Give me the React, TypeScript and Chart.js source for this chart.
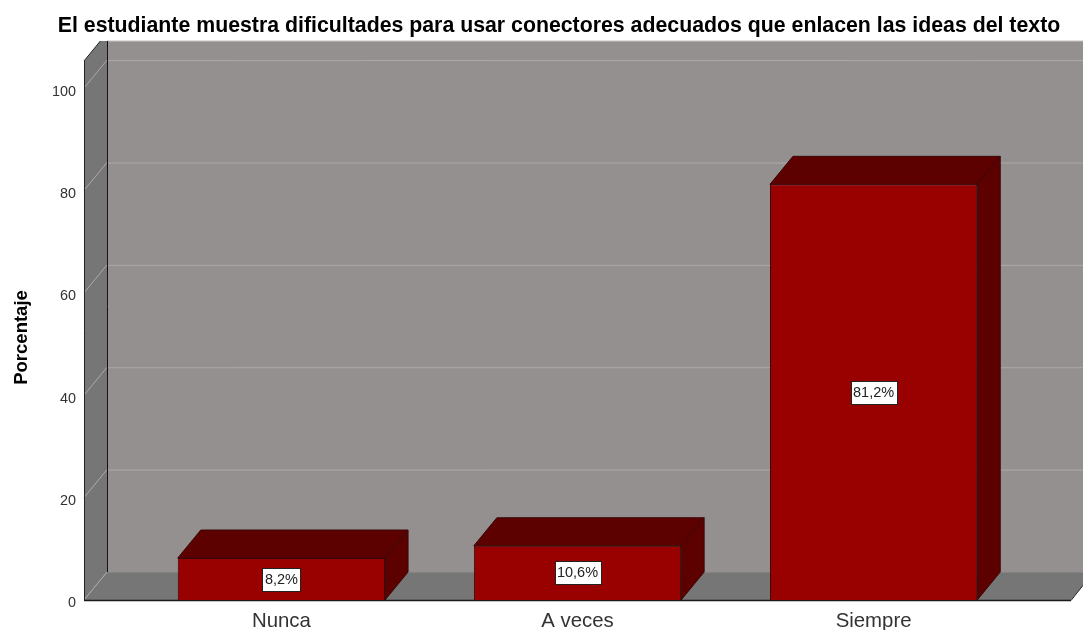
import React, { useEffect, useRef } from "react";
import { Chart, registerables } from "chart.js";

Chart.register(...registerables);

const titleText = "El estudiante muestra dificultades para usar conectores adecuados que enlacen las ideas del texto";
const yAxisTitle = "Porcentaje";
const categories = ["Nunca", "A veces", "Siempre"];
const positions = [1, 2, 3];
const percentages = [8.2, 10.6, 81.2];
const percentLabels = ["8,2%", "10,6%", "81,2%"];

const DEPTH_X = 23;
const DEPTH_Y = -28;
const WALL_TOP = 41;
const FONT = "'Liberation Sans', Arial, sans-serif";

const poly = (ctx: CanvasRenderingContext2D, pts: number[][], fill?: string, stroke?: string) => {
  ctx.beginPath();
  pts.forEach(([x, y], i) => (i ? ctx.lineTo(x, y) : ctx.moveTo(x, y)));
  ctx.closePath();
  if (fill) { ctx.fillStyle = fill; ctx.fill(); }
  if (stroke) { ctx.strokeStyle = stroke; ctx.lineWidth = 1; ctx.stroke(); }
};
const seg = (ctx: CanvasRenderingContext2D, x1: number, y1: number, x2: number, y2: number, color: string, w = 1) => {
  ctx.beginPath();
  ctx.moveTo(x1, y1);
  ctx.lineTo(x2, y2);
  ctx.strokeStyle = color;
  ctx.lineWidth = w;
  ctx.stroke();
};

const walls = {
  id: "walls",
  beforeDatasetsDraw(chart: any) {
    const { ctx, chartArea: a, scales } = chart;
    const w = chart.width;
    const bx = a.left + DEPTH_X;
    const by = a.bottom + DEPTH_Y;
    const cutX = a.left + ((a.top - WALL_TOP) / -DEPTH_Y) * DEPTH_X;
    const edgeY = a.bottom + ((w - a.right) / DEPTH_X) * DEPTH_Y;
    ctx.save();
    ctx.fillStyle = "#94908f";
    ctx.fillRect(bx, WALL_TOP, w - bx, by - WALL_TOP);
    poly(ctx, [[a.left, a.top], [cutX, WALL_TOP], [bx, WALL_TOP], [bx, by], [a.left, a.bottom]], "#767676");
    poly(ctx, [[a.left, a.bottom], [bx, by], [w, by], [w, edgeY], [a.right, a.bottom]], "#767676");
    const yScale = scales.y;
    yScale.ticks.forEach((t: any) => {
      const p = yScale.getPixelForValue(t.value);
      seg(ctx, a.left, p, bx, p + DEPTH_Y, "#adaaa8");
      seg(ctx, bx, p + DEPTH_Y + 0.5, w, p + DEPTH_Y + 0.5, t.value === 0 ? "#85827f" : "#adaaa8");
    });
    seg(ctx, bx, WALL_TOP, w, WALL_TOP, "#c4c2c0");
    seg(ctx, bx + 0.5, WALL_TOP, bx + 0.5, by, "#111111");
    seg(ctx, a.left + 0.5, a.top, a.left + 0.5, a.bottom, "#222222");
    seg(ctx, a.left, a.top, cutX, WALL_TOP, "#222222");
    seg(ctx, a.left, a.bottom + 0.5, a.right, a.bottom + 0.5, "#1a1a1a", 1.5);
    seg(ctx, a.right, a.bottom + 0.5, w, edgeY, "#222222");
    ctx.restore();
  },
};

const faces = {
  id: "faces",
  beforeDatasetDraw(chart: any) {
    const { ctx } = chart;
    ctx.save();
    chart.getDatasetMeta(0).data.forEach((bar: any) => {
      const p = bar.getProps(["x", "y", "base", "width"], true);
      const l = p.x - p.width / 2;
      const r = p.x + p.width / 2;
      poly(ctx, [[l, p.y], [l + DEPTH_X, p.y + DEPTH_Y], [r + DEPTH_X, p.y + DEPTH_Y], [r, p.y]], "#5c0000", "#3a0808");
      poly(ctx, [[r, p.y], [r + DEPTH_X, p.y + DEPTH_Y], [r + DEPTH_X, p.base + DEPTH_Y], [r, p.base]], "#5c0000", "#3a0808");
    });
    ctx.restore();
  },
  afterDatasetsDraw(chart: any) {
    const { ctx, chartArea: a } = chart;
    ctx.save();
    ctx.font = `14.5px ${FONT}`;
    ctx.textAlign = "center";
    ctx.textBaseline = "middle";
    chart.getDatasetMeta(0).data.forEach((bar: any, i: number) => {
      const p = bar.getProps(["x", "y", "base"], true);
      const cy = (p.y + p.base) / 2;
      const tw = ctx.measureText(percentLabels[i]).width;
      const bw = Math.round(tw + 5);
      const bh = 23;
      const bl = Math.round(p.x - bw / 2) + 0.5;
      const bt = Math.round(cy - bh / 2) + 0.5;
      ctx.fillStyle = "#ffffff";
      ctx.fillRect(bl, bt, bw, bh);
      ctx.strokeStyle = "#222222";
      ctx.lineWidth = 1;
      ctx.strokeRect(bl, bt, bw, bh);
      ctx.fillStyle = "#222222";
      ctx.fillText(percentLabels[i], p.x, cy + 0.5);
    });
    ctx.translate(22, (a.top + a.bottom) / 2 + 7);
    ctx.rotate(-Math.PI / 2);
    ctx.font = `bold 18.5px ${FONT}`;
    ctx.fillStyle = "#000000";
    ctx.fillText(yAxisTitle, 0, 0);
    ctx.restore();
  },
};

const shiftTitle = {
  id: "shiftTitle",
  afterLayout(chart: any) {
    chart.titleBlock.left = 47;
  },
};

export default function App() {
  const ref = useRef<HTMLCanvasElement>(null);
  useEffect(() => {
    document.body.style.margin = "0";
    const chart = new Chart(ref.current as HTMLCanvasElement, {
      type: "bar",
      data: {
        labels: categories,
        datasets: [
          {
            data: positions.map((x, i) => ({ x, y: percentages[i] })),
            backgroundColor: "#990000",
            borderColor: "#3a0808",
            borderWidth: 1,
            categoryPercentage: 1,
            barPercentage: 0.7,
          },
        ],
      } as any,
      options: {
        responsive: false,
        animation: false,
        layout: { padding: { left: 0, right: 12, top: 0, bottom: 0 } },
        plugins: {
          legend: { display: false },
          tooltip: { enabled: false },
          title: {
            display: true,
            text: titleText,
            color: "#000000",
            font: { family: FONT, size: 21.3, weight: "bold", lineHeight: 1.2 },
            padding: { top: 13, bottom: 22.4 },
          },
        },
        scales: {
          x: {
            type: "linear",
            offset: false,
            min: 1 / 3,
            max: 11 / 3,
            grid: { display: false, drawTicks: false },
            border: { display: false },
            afterBuildTicks(scale: any) {
              scale.ticks = positions.map((value) => ({ value }));
            },
            afterFit(scale: any) {
              scale.height = 30;
            },
            ticks: {
              autoSkip: false,
              maxRotation: 0,
              color: "#333333",
              padding: 9,
              font: { family: FONT, size: 20.4 },
              callback: (v: any) => categories[positions.indexOf(v)],
            },
          },
          y: {
            min: 0,
            max: 105.3,
            grid: { display: false, drawTicks: false },
            border: { display: false },
            afterFit(scale: any) {
              scale.width = 84;
            },
            ticks: {
              stepSize: 20,
              includeBounds: false,
              color: "#333333",
              padding: 8,
              labelOffset: 3.5,
              font: { family: FONT, size: 14.4 },
            },
          },
        },
      },
      plugins: [walls, faces, shiftTitle],
    } as any);
    return () => chart.destroy();
  }, []);
  return <canvas ref={ref} width={1083} height={630} style={{ display: "block" }} />;
}
